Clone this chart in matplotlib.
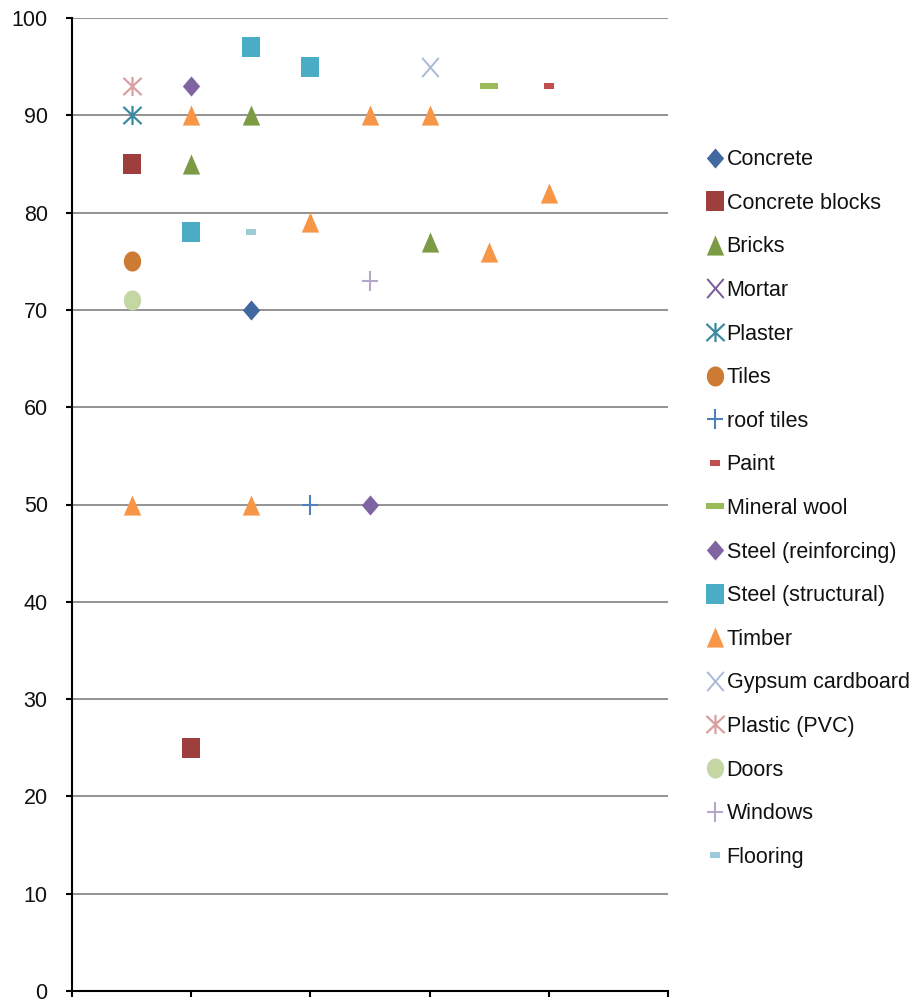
import matplotlib
matplotlib.use("Agg")
import numpy as np
import matplotlib.pyplot as plt
from matplotlib.path import Path
from matplotlib.ticker import MultipleLocator, NullFormatter

plt.rcParams['font.family'] = ['Liberation Sans', 'DejaVu Sans']

# Series data: x positions and values
concrete_x, concrete_y = [1.5], [70]
blocks_x, blocks_y = [0.5, 1.0], [85, 25]
bricks_x, bricks_y = [1.0, 1.5, 3.0], [85, 90, 77]
mortar_x, mortar_y = [], []
plaster_x, plaster_y = [0.5], [90]
tiles_x, tiles_y = [0.5], [75]
roof_x, roof_y = [2.0], [50]
paint_x, paint_y = [4.0], [93]
wool_x, wool_y = [3.5], [93]
steel_r_x, steel_r_y = [1.0, 2.5], [93, 50]
steel_s_x, steel_s_y = [1.5, 2.0, 1.0], [97, 95, 78]
timber_x = [0.5, 1.0, 1.5, 2.0, 2.5, 3.0, 3.5, 4.0]
timber_y = [50, 90, 50, 79, 90, 90, 76, 82]
gypsum_x, gypsum_y = [3.0], [95]
pvc_x, pvc_y = [0.5], [93]
doors_x, doors_y = [0.5], [71]
windows_x, windows_y = [2.5], [73]
flooring_x, flooring_y = [1.5], [78]

# Marker shapes, slightly taller than wide
W = 0.86


def closed(pts):
    pts = list(pts) + [pts[0]]
    return Path(pts, [Path.MOVETO] + [Path.LINETO] * (len(pts) - 2) + [Path.CLOSEPOLY])


def segments(segs):
    verts, codes = [], []
    for a, b in segs:
        verts += [a, b]
        codes += [Path.MOVETO, Path.LINETO]
    return Path(verts, codes)


m_square = closed([(-W, -1), (W, -1), (W, 1), (-W, 1)])
m_diamond = closed([(0, 1), (W, 0), (0, -1), (-W, 0)])
m_triangle = closed([(0, 1), (W, -1), (-W, -1)])
theta = np.linspace(0, 2 * np.pi, 40, endpoint=False)
m_circle = closed(list(zip(W * np.cos(theta), np.sin(theta))))
m_cross = segments([((-W, -1), (W, 1)), ((-W, 1), (W, -1))])
m_plus = segments([((0, -1), (0, 1)), ((-W, 0), (W, 0))])
m_star = segments([((0, -1), (0, 1)), ((-0.95, -0.9), (0.95, 0.9)), ((-0.95, 0.9), (0.95, -0.9))])
m_long_dash = closed([(-1, -0.32), (1, -0.32), (1, 0.32), (-1, 0.32)])
m_short_dash = closed([(-1, -0.58), (1, -0.58), (1, 0.58), (-1, 0.58)])

FILLED = 14.5
LINED = 13.8
series = [
    ("Concrete", concrete_x, concrete_y, dict(marker=m_diamond, ms=FILLED, color='#41689f', mew=0)),
    ("Concrete blocks", blocks_x, blocks_y, dict(marker=m_square, ms=FILLED, color='#9e3f3d', mew=0)),
    ("Bricks", bricks_x, bricks_y, dict(marker=m_triangle, ms=FILLED, color='#7d9a44', mew=0)),
    ("Mortar", mortar_x, mortar_y, dict(marker=m_cross, ms=LINED, color='#7a5a9a', mew=1.4)),
    ("Plaster", plaster_x, plaster_y, dict(marker=m_star, ms=LINED, color='#3a8aa2', mew=1.6)),
    ("Tiles", tiles_x, tiles_y, dict(marker=m_circle, ms=FILLED, color='#cc7a34', mew=0)),
    ("roof tiles", roof_x, roof_y, dict(marker=m_plus, ms=LINED, color='#4f81bd', mew=1.5)),
    ("Paint", paint_x, paint_y, dict(marker=m_short_dash, ms=7, color='#c0504d', mew=0)),
    ("Mineral wool", wool_x, wool_y, dict(marker=m_long_dash, ms=12.5, color='#9bbb59', mew=0)),
    ("Steel (reinforcing)", steel_r_x, steel_r_y, dict(marker=m_diamond, ms=FILLED, color='#8064a2', mew=0)),
    ("Steel (structural)", steel_s_x, steel_s_y, dict(marker=m_square, ms=FILLED, color='#4bacc6', mew=0)),
    ("Timber", timber_x, timber_y, dict(marker=m_triangle, ms=FILLED, color='#f79646', mew=0)),
    ("Gypsum cardboard", gypsum_x, gypsum_y, dict(marker=m_cross, ms=LINED, color='#a9b9d9', mew=1.4)),
    ("Plastic (PVC)", pvc_x, pvc_y, dict(marker=m_star, ms=LINED, color='#d8a0a0', mew=1.6)),
    ("Doors", doors_x, doors_y, dict(marker=m_circle, ms=FILLED, color='#c3d6a4', mew=0)),
    ("Windows", windows_x, windows_y, dict(marker=m_plus, ms=LINED, color='#b6a6ca', mew=1.5)),
    ("Flooring", flooring_x, flooring_y, dict(marker=m_short_dash, ms=7, color='#9ccad8', mew=0)),
]

fig = plt.figure(figsize=(9.16, 10.01), dpi=100)
ax = fig.add_axes([72 / 916, 10 / 1001, 596 / 916, 973 / 1001])

handles = []
for name, xs, ys, style in series:
    h, = ax.plot(xs, ys, linestyle='none', label=name, **style)
    handles.append(h)

ax.set_xlim(0, 5)
ax.set_ylim(0, 100)
ax.xaxis.set_major_locator(MultipleLocator(1))
ax.xaxis.set_major_formatter(NullFormatter())
ax.yaxis.set_major_locator(MultipleLocator(10))
ax.yaxis.grid(True, color='#8a8a8a', linewidth=1.3)
ax.set_axisbelow(True)

for side in ('top', 'right'):
    ax.spines[side].set_visible(False)
for side in ('left', 'bottom'):
    ax.spines[side].set_color('black')
    ax.spines[side].set_linewidth(1.5)

ax.tick_params(axis='both', direction='out', length=4.5, width=1.5, color='black')
ax.tick_params(axis='y', labelsize=15.5, pad=13, labelcolor='#111111')

fig.legend(handles=handles, loc='upper left', bbox_to_anchor=(0.772, 0.851),
           frameon=False, fontsize=15.5, handlelength=0.75, handletextpad=0.15,
           labelspacing=1.05, borderpad=0, borderaxespad=0, markerscale=1.0,
           labelcolor='#111111')

fig.savefig("out.png", dpi=100)
